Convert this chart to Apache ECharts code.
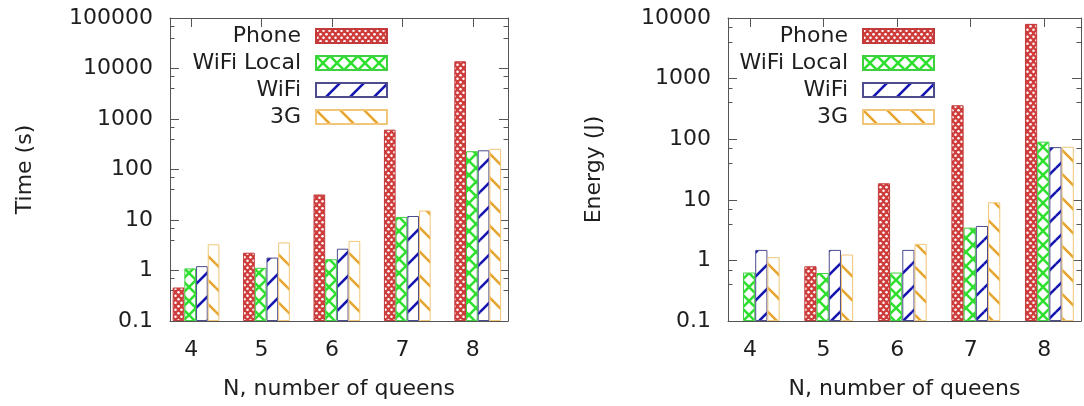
<!DOCTYPE html>
<html>
<head>
<meta charset="utf-8">
<script src="https://cdn.jsdelivr.net/npm/echarts@6/dist/echarts.min.js"></script>
<style>
  html, body { margin: 0; padding: 0; background: #ffffff; }
  #chart { width: 1084px; height: 406px; }
</style>
</head>
<body>
<div id="chart"></div>
<script>
// ---------------- data ----------------
const categories = [4, 5, 6, 7, 8];
const seriesNames = ['Phone', 'WiFi Local', 'WiFi', '3G'];

// Time (s)
const timePhone     = [0.46, 2.25, 32, 615, 13900];
const timeWifiLocal = [1.1, 1.13, 1.67, 11.5, 230];
const timeWifi      = [1.22, 1.8, 2.7, 12, 240];
const time3G        = [3.3, 3.6, 3.86, 15.4, 257];

// Energy (J)
const energyPhone     = [null, 0.8, 18.7, 363, 8000];
const energyWifiLocal = [0.63, 0.62, 0.63, 3.47, 91];
const energyWifi      = [1.49, 1.49, 1.49, 3.7, 74];
const energy3G        = [1.13, 1.25, 1.87, 9.1, 75];

const timeAxisRange   = [0.1, 100000];
const energyAxisRange = [0.1, 10000];
const xAxisRange      = [3.7, 8.5];

// ---------------- styling ----------------
const FONT = 'DejaVu Sans';
const TEXT = '#1e1e1e';
const AXIS = '#555555';
const CLUSTER_SHIFT = 0.07;

function tile(w, h, draw) {
  const c = document.createElement('canvas');
  c.width = w; c.height = h;
  const g = c.getContext('2d');
  draw(g, w, h);
  return { image: c, repeat: 'repeat' };
}
function lines(g, segs, color, lw, w, h) {
  g.strokeStyle = color; g.lineWidth = lw; g.lineCap = 'butt';
  for (const dx of [-w, 0, w]) for (const dy of [-h, 0, h]) {
    for (const s of segs) {
      g.beginPath();
      g.moveTo(s[0] + dx, s[1] + dy);
      g.lineTo(s[2] + dx, s[3] + dy);
      g.stroke();
    }
  }
}
const patPhone = tile(6, 7, (g, w, h) => {
  g.fillStyle = '#cf3c3c'; g.fillRect(0, 0, w, h);
  g.fillStyle = '#ffffff';
  [[1.5, 1.75], [4.5, 5.25]].forEach(p => { g.beginPath(); g.arc(p[0], p[1], 1.25, 0, Math.PI * 2); g.fill(); });
});
const patLocal = tile(14, 14, (g, w, h) => {
  g.fillStyle = '#ffffff'; g.fillRect(0, 0, w, h);
  lines(g, [[0, 0, 14, 14], [14, 0, 0, 14]], '#2fe02f', 2.6, w, h);
});
const patWifi = tile(24, 24, (g, w, h) => {
  g.fillStyle = '#ffffff'; g.fillRect(0, 0, w, h);
  lines(g, [[0, 24, 24, 0]], '#1515b0', 2.6, w, h);
});
const pat3G = tile(24, 24, (g, w, h) => {
  g.fillStyle = '#ffffff'; g.fillRect(0, 0, w, h);
  lines(g, [[0, 0, 24, 24]], '#e6a52e', 2.6, w, h);
});
const styles = [
  { color: patPhone, borderColor: '#c23a3a', borderWidth: 1 },
  { color: patLocal, borderColor: '#3fd03f', borderWidth: 1 },
  { color: patWifi,  borderColor: '#4c4c8e', borderWidth: 1 },
  { color: pat3G,    borderColor: '#f1c679', borderWidth: 1 }
];

function fmtLog(v) {
  if (v >= 1) return String(Math.round(v));
  return String(+v.toFixed(1));
}
function fmtX(v) {
  return Math.abs(v - Math.round(v)) < 1e-6 ? String(Math.round(v)) : '';
}

function xAxes(gi) {
  const common = {
    type: 'value', gridIndex: gi, min: xAxisRange[0], max: xAxisRange[1],
    minInterval: 1, maxInterval: 1,
    axisLine: { show: true, lineStyle: { color: AXIS, width: 1 } },
    axisTick: { show: true, inside: true, length: 9, lineStyle: { color: AXIS } },
    splitLine: { show: false }
  };
  return [
    Object.assign({}, common, {
      position: 'bottom',
      axisLabel: { show: true, fontSize: 22, fontFamily: FONT, color: TEXT, margin: 18, formatter: fmtX },
      name: 'N, number of queens', nameLocation: 'middle', nameGap: 57,
      nameTextStyle: { fontSize: 22, fontFamily: FONT, color: TEXT }
    }),
    Object.assign({}, common, { position: 'top', axisLabel: { show: false } })
  ];
}
function yAxes(gi, range, name, gap) {
  const common = {
    type: 'log', logBase: 10, gridIndex: gi, min: range[0], max: range[1], startValue: range[0],
    axisLine: { show: true, lineStyle: { color: AXIS, width: 1 } },
    axisTick: { show: true, inside: true, length: 9, lineStyle: { color: AXIS } },
    minorTick: { show: true, splitNumber: 3, length: 4.5, lineStyle: { color: AXIS } },
    splitLine: { show: false }, minorSplitLine: { show: false }
  };
  return [
    Object.assign({}, common, {
      position: 'left',
      axisLabel: { show: true, fontSize: 22, fontFamily: FONT, color: TEXT, margin: 17, formatter: fmtLog },
      name: name, nameLocation: 'middle', nameGap: gap,
      nameTextStyle: { fontSize: 22, fontFamily: FONT, color: TEXT }
    }),
    Object.assign({}, common, { position: 'right', axisLabel: { show: false } })
  ];
}
function barSeries(gi, arrays) {
  return arrays.map((vals, k) => ({
    type: 'bar', name: seriesNames[k],
    xAxisIndex: gi * 2, yAxisIndex: gi * 2,
    barWidth: '16.6%', barGap: '0%',
    silent: true,
    itemStyle: styles[k],
    data: categories.map((c, i) => vals[i] == null ? null : [c + CLUSTER_SHIFT, vals[i]]).filter(d => d)
  }));
}
function legend(right) {
  return {
    data: seriesNames, orient: 'vertical', align: 'right',
    right: right, top: 25, padding: 0, itemGap: 5,
    itemWidth: 71, itemHeight: 14, icon: 'rect',
    selectedMode: false,
    textStyle: { fontSize: 22, fontFamily: FONT, color: TEXT, padding: [0, 10, 0, 0] }
  };
}

const chart = echarts.init(document.getElementById('chart'), null, { renderer: 'canvas' });
chart.setOption({
  backgroundColor: '#ffffff',
  animation: false,
  grid: [
    { left: 170, top: 18, width: 338, height: 303 },
    { left: 728, top: 18, width: 353, height: 303 }
  ],
  legend: [legend(696), legend(149)],
  xAxis: xAxes(0).concat(xAxes(1)),
  yAxis: yAxes(0, timeAxisRange, 'Time (s)', 134).concat(yAxes(1, energyAxisRange, 'Energy (J)', 123)),
  series: barSeries(0, [timePhone, timeWifiLocal, timeWifi, time3G])
    .concat(barSeries(1, [energyPhone, energyWifiLocal, energyWifi, energy3G]))
});
</script>
</body>
</html>
